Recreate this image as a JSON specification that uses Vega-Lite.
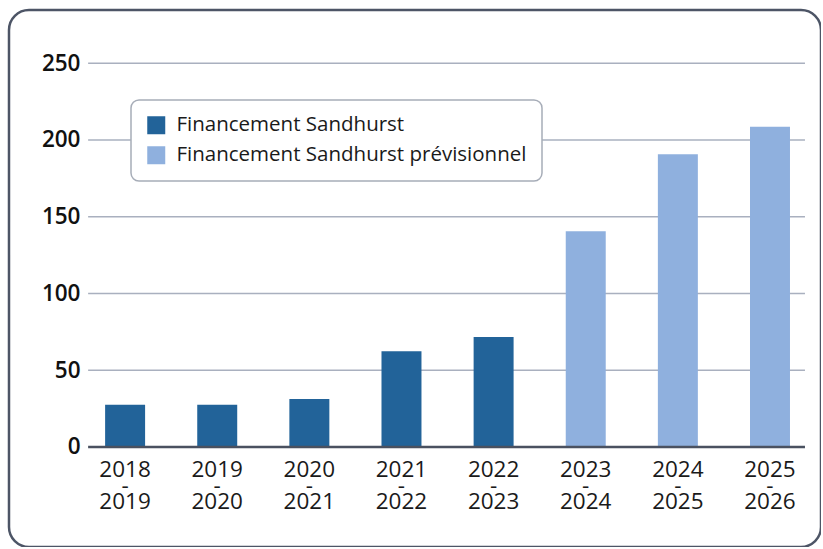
{
  "$schema": "https://vega.github.io/schema/vega-lite/v6.json",
  "width": 812,
  "height": 537,
  "autosize": "none",
  "padding": {"left": 9, "top": 10, "right": 0, "bottom": 0},
  "background": "white",
  "config": {
    "view": {"stroke": "#4d5566", "strokeWidth": 2.5, "cornerRadius": 20},
    "font": "Open Sans",
    "legend": {"strokeWidth": 1.5}
  },
  "datasets": {
    "funding": [
      {"period": "2018-2019", "value": 27.5, "type": "Financement Sandhurst"},
      {"period": "2019-2020", "value": 27.5, "type": "Financement Sandhurst"},
      {"period": "2020-2021", "value": 31.3, "type": "Financement Sandhurst"},
      {"period": "2021-2022", "value": 62.3, "type": "Financement Sandhurst"},
      {"period": "2022-2023", "value": 71.7, "type": "Financement Sandhurst"},
      {"period": "2023-2024", "value": 140.5, "type": "Financement Sandhurst prévisionnel"},
      {"period": "2024-2025", "value": 190.7, "type": "Financement Sandhurst prévisionnel"},
      {"period": "2025-2026", "value": 208.7, "type": "Financement Sandhurst prévisionnel"}
    ],
    "grid": [{"g": 50}, {"g": 100}, {"g": 150}, {"g": 200}, {"g": 250}]
  },
  "layer": [
    {
      "data": {"name": "grid"},
      "mark": {"type": "rule", "color": "#a9b0bf", "strokeWidth": 1.5},
      "encoding": {
        "y": {"field": "g", "type": "quantitative"},
        "x": {"datum": "2018-2019", "bandPosition": -0.425},
        "x2": {"datum": "2025-2026", "bandPosition": 1.375}
      }
    },
    {
      "data": {"name": "funding"},
      "mark": {"type": "bar"},
      "encoding": {
        "x": {
          "field": "period",
          "type": "nominal",
          "sort": null,
          "scale": {
            "domain": ["2018-2019", "2019-2020", "2020-2021", "2021-2022", "2022-2023", "2023-2024", "2024-2025", "2025-2026"],
            "paddingInner": 0.566,
            "paddingOuter": 0.69,
            "align": 0.756
          },
          "axis": {
            "title": null,
            "orient": "bottom",
            "offset": -100,
            "domain": false,
            "ticks": false,
            "labelAngle": 0,
            "labelAlign": "center",
            "labelBaseline": "top",
            "labelPadding": 11,
            "labelFontSize": 22.5,
            "labelColor": "#1a1a1a",
            "labelLineHeight": 16,
            "labelExpr": "[split(datum.label, '-')[0], '-', split(datum.label, '-')[1]]"
          }
        },
        "y": {
          "field": "value",
          "type": "quantitative",
          "scale": {"domain": [-65.2, 284.7], "nice": false, "zero": false},
          "axis": {
            "title": null,
            "values": [0, 50, 100, 150, 200, 250],
            "offset": -79,
            "domain": false,
            "ticks": false,
            "grid": false,
            "labelPadding": 8,
            "labelFontSize": 22.5,
            "labelFontWeight": 600,
            "labelColor": "#111111"
          }
        },
        "color": {
          "field": "type",
          "type": "nominal",
          "scale": {
            "domain": ["Financement Sandhurst", "Financement Sandhurst prévisionnel"],
            "range": ["#226399", "#8fb0de"]
          },
          "legend": {
            "title": null,
            "orient": "none",
            "legendX": 122,
            "legendY": 90,
            "symbolType": "square",
            "symbolSize": 324,
            "symbolStrokeWidth": 0,
            "labelFontSize": 20.5,
            "labelOffset": 10,
            "labelLimit": 600,
            "labelColor": "#1a1a1a",
            "rowPadding": 9,
            "padding": 15,
            "strokeColor": "#a7adb8",
            "cornerRadius": 8,
            "fillColor": "white"
          }
        }
      }
    },
    {
      "data": {"values": [{"b": 0}]},
      "mark": {"type": "rule", "color": "#4a5160", "strokeWidth": 2.5},
      "encoding": {
        "y": {"field": "b", "type": "quantitative"},
        "x": {"datum": "2018-2019", "bandPosition": -0.425},
        "x2": {"datum": "2025-2026", "bandPosition": 1.375}
      }
    }
  ]
}
